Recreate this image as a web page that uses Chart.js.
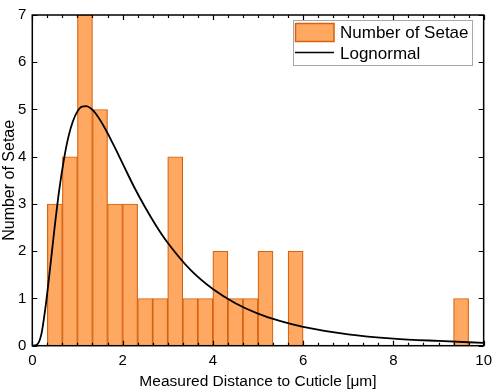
<!DOCTYPE html>
<html>
<head>
<meta charset="utf-8">
<script src="https://cdn.jsdelivr.net/npm/chart.js@4/dist/chart.umd.min.js"></script>
<style>
  html, body { margin: 0; padding: 0; background: #fff; }
  #wrap { width: 498px; height: 392px; }
</style>
</head>
<body>
<div id="wrap"><canvas id="c" width="498" height="392"></canvas></div>
<script>
// Histogram bins (centers, µm) and counts
const binCenters = [0.5, 0.83333, 1.16667, 1.5, 1.83333, 2.16667, 2.5, 2.83333, 3.16667, 3.5,
  3.83333, 4.16667, 4.5, 4.83333, 5.16667, 5.5, 5.83333, 6.16667, 6.5, 6.83333,
  7.16667, 7.5, 7.83333, 8.16667, 8.5, 8.83333, 9.16667, 9.5];
const setaeCounts = [3, 4, 7, 5, 3, 3, 1, 1, 4, 1,
  1, 2, 1, 1, 2, 0, 2, 0, 0, 0,
  0, 0, 0, 0, 0, 0, 0, 1];
// Lognormal fit curve
const fitX = [0, 0.1, 0.2, 0.3, 0.4, 0.5, 0.6, 0.7, 0.8, 0.9, 1.0, 1.1, 1.2, 1.3, 1.4, 1.6, 1.8,
  2.0, 2.25, 2.5, 2.75, 3.0, 3.5, 4, 4.5, 5, 5.5, 6, 7, 8, 9, 10];
const fitY = [0, 0.02, 0.24, 0.87, 1.69, 2.55, 3.32, 3.94, 4.42, 4.75, 4.96, 5.06, 5.07, 5.02, 4.92, 4.62, 4.25,
  3.86, 3.37, 2.93, 2.53, 2.18, 1.61, 1.20, 0.90, 0.68, 0.52, 0.40, 0.24, 0.15, 0.10, 0.06];
const xTicksMajor = [0, 2, 4, 6, 8, 10];
const yTicksMajor = [0, 1, 2, 3, 4, 5, 6, 7];
const seriesNames = ['Number of Setae', 'Lognormal'];
const axisTitles = ['Measured Distance to Cuticle [\u03bcm]', 'Number of Setae'];

const FONT = '"Liberation Sans", Arial, sans-serif';
const BAR_FILL = '#FFA862';
const BAR_EDGE = '#D5620F';

const framePlugin = {
  id: 'frame',
  afterDraw(chart) {
    const ctx = chart.ctx;
    const a = chart.chartArea;
    const xs = chart.scales.x, ys = chart.scales.y;
    ctx.save();
    ctx.strokeStyle = '#000';
    ctx.lineWidth = 1.5;
    ctx.strokeRect(a.left, a.top, a.right - a.left, a.bottom - a.top);
    ctx.lineWidth = 1.2;
    ctx.beginPath();
    // x ticks (major every 2, minor every 1/3), inward, bottom and top
    for (let i = 0; i <= 30; i++) {
      const v = i / 3;
      const px = Math.round(xs.getPixelForValue(v)) + 0.5;
      const major = (i % 6 === 0);
      const len = major ? 5 : 3;
      ctx.moveTo(px, a.bottom); ctx.lineTo(px, a.bottom - len);
      ctx.moveTo(px, a.top); ctx.lineTo(px, a.top + len);
    }
    yTicksMajor.forEach(v => {
      const py = Math.round(ys.getPixelForValue(v)) + 0.5;
      ctx.moveTo(a.left, py); ctx.lineTo(a.left + 5, py);
      ctx.moveTo(a.right, py); ctx.lineTo(a.right - 5, py);
    });
    ctx.stroke();

    // legend
    ctx.lineWidth = 1;
    ctx.strokeStyle = '#a8a8a8';
    ctx.strokeRect(293.5, 20.5, 179, 45);
    ctx.fillStyle = BAR_FILL;
    ctx.fillRect(295.5, 23.5, 38.5, 18);
    ctx.strokeStyle = BAR_EDGE;
    ctx.lineWidth = 1.5;
    ctx.strokeRect(295.5, 23.5, 38.5, 18);
    ctx.strokeStyle = '#000';
    ctx.beginPath();
    ctx.moveTo(295, 52.5); ctx.lineTo(334, 52.5);
    ctx.stroke();
    ctx.fillStyle = '#000';
    ctx.font = '17px ' + FONT;
    ctx.textBaseline = 'middle';
    ctx.textAlign = 'left';
    ctx.fillText(seriesNames[0], 340, 33);
    ctx.fillText(seriesNames[1], 340, 54);
    ctx.restore();
  }
};

new Chart(document.getElementById('c'), {
  type: 'bar',
  data: {
    datasets: [
      {
        type: 'line',
        label: seriesNames[1],
        data: fitX.map((x, i) => ({ x: x, y: fitY[i] })),
        borderColor: '#000',
        borderWidth: 1.8,
        pointRadius: 0,
        cubicInterpolationMode: 'monotone',
        fill: false,
        order: 0
      },
      {
        type: 'bar',
        label: seriesNames[0],
        data: binCenters.map((x, i) => ({ x: x, y: setaeCounts[i] })),
        backgroundColor: BAR_FILL,
        borderColor: BAR_EDGE,
        borderWidth: 1.2,
        borderSkipped: 'bottom',
        barPercentage: 1,
        categoryPercentage: 1,
        order: 1
      }
    ]
  },
  options: {
    responsive: false,
    animation: false,
    devicePixelRatio: 1,
    layout: { padding: { left: 0, right: 8.7, top: 6.3, bottom: 0 } },
    plugins: { legend: { display: false }, tooltip: { enabled: false } },
    scales: {
      x: {
        type: 'linear',
        offset: false,
        min: 0, max: 10,
        afterBuildTicks(s) { s.ticks = xTicksMajor.map(v => ({ value: v })); },
        afterFit(s) { s.height = 46.3; },
        grid: { display: false, drawTicks: false, offset: false },
        border: { display: false },
        ticks: { color: '#000', font: { family: FONT, size: 15 }, padding: 6, maxRotation: 0 },
        title: { display: true, text: axisTitles[0], color: '#000', font: { family: FONT, size: 15.5 }, padding: { top: 1, bottom: 1 } }
      },
      y: {
        type: 'linear',
        min: 0, max: 7,
        afterBuildTicks(s) { s.ticks = yTicksMajor.map(v => ({ value: v })); },
        afterFit(s) { s.width = 32.3; },
        grid: { display: false, drawTicks: false },
        border: { display: false },
        ticks: { color: '#000', font: { family: FONT, size: 15 }, padding: 6 },
        title: { display: true, text: axisTitles[1], color: '#000', font: { family: FONT, size: 16 }, padding: { top: 0, bottom: 0 } }
      }
    }
  },
  plugins: [framePlugin]
});
</script>
</body>
</html>
